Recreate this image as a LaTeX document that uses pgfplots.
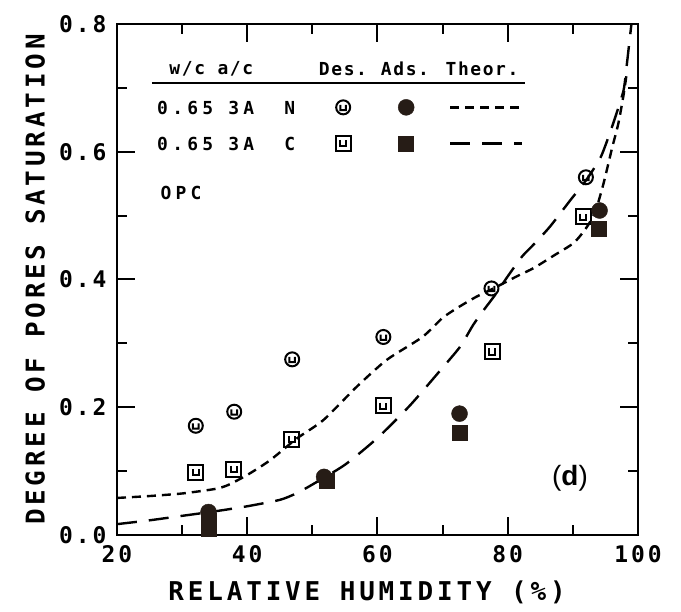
\documentclass[border=0pt]{standalone}
\usepackage{fontspec}
\usepackage{pgfplots}
\pgfplotsset{compat=1.18}
\newfontfamily\tickfont{DejaVu Sans Mono}[LetterSpace=13]
\newfontfamily\labfont{DejaVu Sans Mono}[LetterSpace=15]
\newfontfamily\legfont{DejaVu Sans Mono}[LetterSpace=24]
\newfontfamily\headfont{DejaVu Sans Mono}[LetterSpace=9]
\newfontfamily\dfont{Liberation Sans}
\definecolor{ink}{RGB}{38,28,22}

\pgfdeclareplotmark{ocircu}{%
  \pgfpathcircle{\pgfpointorigin}{\pgfplotmarksize}%
  \pgfpathmoveto{\pgfpoint{-0.4\pgfplotmarksize}{0.35\pgfplotmarksize}}%
  \pgfpathlineto{\pgfpoint{-0.4\pgfplotmarksize}{-0.4\pgfplotmarksize}}%
  \pgfpathlineto{\pgfpoint{0.4\pgfplotmarksize}{-0.4\pgfplotmarksize}}%
  \pgfpathlineto{\pgfpoint{0.4\pgfplotmarksize}{0.35\pgfplotmarksize}}%
  \pgfusepathqstroke}
\pgfdeclareplotmark{osquu}{%
  \pgfpathrectangle{\pgfpoint{-\pgfplotmarksize}{-\pgfplotmarksize}}{\pgfpoint{2\pgfplotmarksize}{2\pgfplotmarksize}}%
  \pgfpathmoveto{\pgfpoint{-0.4\pgfplotmarksize}{0.45\pgfplotmarksize}}%
  \pgfpathlineto{\pgfpoint{-0.4\pgfplotmarksize}{-0.4\pgfplotmarksize}}%
  \pgfpathlineto{\pgfpoint{0.4\pgfplotmarksize}{-0.4\pgfplotmarksize}}%
  \pgfpathlineto{\pgfpoint{0.4\pgfplotmarksize}{0.45\pgfplotmarksize}}%
  \pgfusepathqstroke}

\pgfplotsset{
  desN/.style={only marks, mark=ocircu, mark size=7bp, mark options={line width=2bp, draw=black}},
  desC/.style={only marks, mark=osquu, mark size=7.5bp, mark options={line width=2bp, draw=black}},
  adsN/.style={only marks, mark=*, mark size=8bp, mark options={fill=ink, draw=ink}},
  adsC/.style={only marks, mark=square*, mark size=7.5bp, mark options={fill=ink, draw=ink}},
  thN/.style={black, line width=2.4bp, dash pattern=on 9bp off 6bp, smooth, tension=0.4},
  thC/.style={black, line width=2.4bp, dash pattern=on 20bp off 12bp, smooth, tension=0.4},
  legmark/.style={legend image code/.code={\path[draw=none,fill=none] (-31bp,-18bp) rectangle (31bp,18bp); \draw plot coordinates {(0bp,0bp)};}},
  legnone/.style={legend image code/.code={\path[draw=none,fill=none] (0bp,-18bp) rectangle (0bp,18bp);}},
  legline/.style={legend image code/.code={\path[draw=none,fill=none] (0bp,-18bp) rectangle (84bp,18bp); \draw (12bp,0bp) -- (84bp,0bp);}},
}

\begin{document}
\begin{tikzpicture}
\useasboundingbox (-117bp,-77bp) rectangle (564bp,535bp);
\begin{axis}[
  scale only axis, width=521bp, height=511bp,
  xmin=20, xmax=100, ymin=0, ymax=0.8,
  axis line style={line width=2.5bp},
  tick style={line width=2bp, black},
  tick align=inside,
  major tick length=18bp, minor tick length=10bp,
  xtick={20,40,60,80,100}, xticklabels={20,40,60,80,100},
  minor xtick={30,50,70,90},
  ytick={0,0.2,0.4,0.6,0.8}, yticklabels={0.0,0.2,0.4,0.6,0.8},
  minor ytick={0.1,0.3,0.5,0.7},
  ticklabel style={font=\tickfont\bfseries\fontsize{23}{23}\selectfont},
  xticklabel style={yshift=-7bp},
  yticklabel style={xshift=-7bp},
  xlabel={RELATIVE HUMIDITY (\%)},
  ylabel={DEGREE OF PORES SATURATION},
  label style={font=\labfont\bfseries\fontsize{26}{26}\selectfont},
  xlabel style={at={(axis description cs:0.48,-0.112)}, anchor=center},
  ylabel style={at={(axis description cs:-0.157,0.5)}, anchor=center},
  legend columns=4,
  legend style={draw=none, fill=none, inner sep=0pt, column sep=0pt, row sep=0pt,
    nodes={inner sep=0pt, text depth=0pt},
    font=\legfont\bfseries\fontsize{18}{18}\selectfont,
    at={(axis cs:26.14,0.698)}, anchor=north west},
  legend cell align=left,
]
% legend
\addlegendimage{legnone}
\addlegendentry{\makebox[155bp][l]{0.65~3A~~N}}
\addlegendimage{desN, legmark}
\addlegendentry{}
\addlegendimage{adsN, legmark}
\addlegendentry{}
\addlegendimage{thN, legline}
\addlegendentry{}
\addlegendimage{legnone}
\addlegendentry{\makebox[155bp][l]{0.65~3A~~C}}
\addlegendimage{desC, legmark}
\addlegendentry{}
\addlegendimage{adsC, legmark}
\addlegendentry{}
\addlegendimage{thC, legline}
\addlegendentry{}

% theoretical curves
\addplot[thN, forget plot] coordinates {
(20,0.058) (25,0.061) (30,0.065) (35,0.072) (37,0.078) (40,0.094) (43.5,0.117)
(47.6,0.151) (51.7,0.18) (56.8,0.232) (61.4,0.274) (66.9,0.31) (70,0.34)
(72.5,0.357) (75,0.372) (78,0.387) (81.4,0.405) (84,0.418) (87,0.437)
(90.1,0.457) (92,0.48) (93.4,0.505) (94.7,0.55) (96,0.605) (97,0.645)
(97.8,0.69) (98.3,0.725)};
\addplot[thC, forget plot] coordinates {
(20,0.017) (25,0.023) (30,0.030) (35,0.037) (40,0.045) (45,0.055) (47.5,0.065)
(50,0.079) (55,0.11) (60,0.152) (65,0.203) (70,0.262) (72.7,0.295) (74.7,0.329)
(76.3,0.352) (78,0.375) (80,0.405) (82.2,0.436) (84,0.455) (86.5,0.483)
(89.6,0.524) (92,0.555) (94.2,0.59) (95.5,0.624) (96.7,0.66) (97.8,0.697)
(98.3,0.738) (98.8,0.783) (99.05,0.805)};

% data
\addplot[desN, forget plot] coordinates {
(32.1,0.171) (38.0,0.193) (46.9,0.275) (60.9,0.310) (77.5,0.386) (92.0,0.560)};
\addplot[desC, forget plot] coordinates {
(32.1,0.098) (37.9,0.103) (46.8,0.150) (60.9,0.202) (77.6,0.287) (91.6,0.498)};
\addplot[adsC, forget plot] coordinates {
(34.05,0.022) (34.05,0.010) (52.2,0.085) (72.6,0.160) (93.9,0.480)};
\addplot[adsN, forget plot] coordinates {
(34.05,0.036) (51.8,0.091) (72.6,0.190) (94.1,0.508)};

% header of the key
\node[font=\headfont\bfseries\fontsize{18}{18}\selectfont, anchor=west] at (axis cs:27.52,0.7296) {w/c~a/c};
\node[font=\headfont\bfseries\fontsize{18}{18}\selectfont] at (axis cs:54.70,0.7296) {Des.};
\node[font=\headfont\bfseries\fontsize{18}{18}\selectfont] at (axis cs:64.22,0.7296) {Ads.};
\node[font=\headfont\bfseries\fontsize{18}{18}\selectfont] at (axis cs:76.05,0.7296) {Theor.};
\draw[line width=2bp] (axis cs:25.37,0.7076) -- (axis cs:82.65,0.7076);
\node[font=\legfont\bfseries\fontsize{18}{18}\selectfont, anchor=west] at (axis cs:26.14,0.5354) {OPC};
\node[font=\dfont\fontsize{28}{28}\selectfont] at (axis cs:89.56,0.0892) {(\textbf{d})};
\end{axis}
\end{tikzpicture}
\end{document}
